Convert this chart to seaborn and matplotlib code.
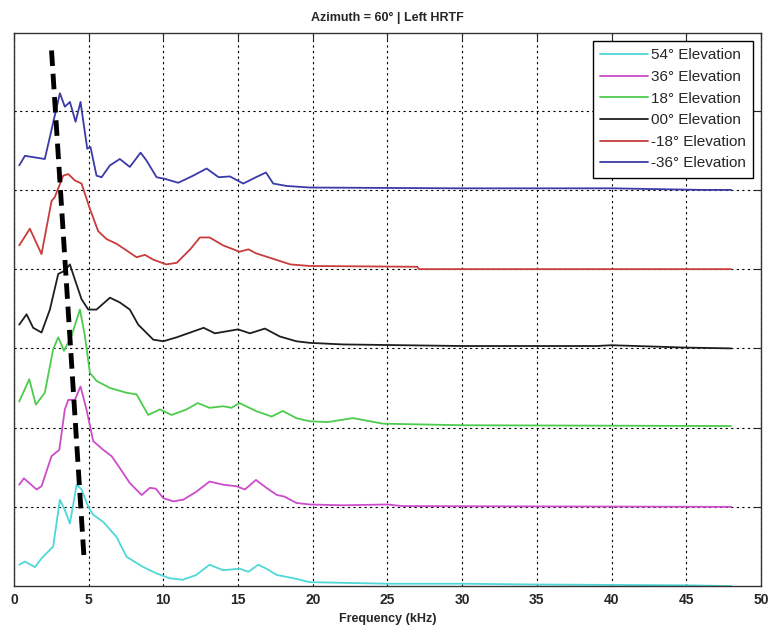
import matplotlib
matplotlib.use("Agg")
import matplotlib.pyplot as plt
import seaborn as sns
import pandas as pd

# Offset HRTF magnitude curves, one per elevation
elevations = ["54° Elevation", "36° Elevation", "18° Elevation",
              "00° Elevation", "-18° Elevation", "-36° Elevation"]
colors = ["#4fd8d8", "#cc4ccc", "#4ccc4c", "#1e1e1e", "#c83c3c", "#3a3aa8"]

freq_54 = [0.36, 0.74, 1.41, 1.85, 2.63, 3.08, 3.41, 3.75, 4.20, 4.53, 4.98, 5.31, 5.98,
           6.87, 7.54, 8.66, 9.55, 10.4, 11.3, 12.2, 13.1, 14.0, 15.1, 15.7, 16.35, 16.9,
           17.6, 18.7, 19.8, 25.0, 30.0, 35.0, 45.0, 48.0]
level_54 = [0.27, 0.31, 0.24, 0.35, 0.50, 1.09, 0.96, 0.79, 1.28, 1.22, 1.00, 0.90, 0.81,
            0.62, 0.37, 0.24, 0.16, 0.10, 0.08, 0.14, 0.27, 0.20, 0.22, 0.18, 0.27, 0.22,
            0.14, 0.10, 0.05, 0.03, 0.03, 0.02, 0.01, 0.0]

freq_36 = [0.36, 0.67, 1.52, 1.85, 2.52, 3.04, 3.41, 3.64, 4.08, 4.46, 4.86, 5.31, 5.98,
           6.54, 7.09, 7.76, 8.55, 9.1, 9.5, 10.0, 10.66, 11.33, 12.2, 13.1, 14.0, 14.9,
           15.46, 16.2, 16.9, 17.6, 18.1, 18.9, 19.8, 22.0, 25.0, 26.0, 48.0]
level_36 = [1.28, 1.36, 1.22, 1.26, 1.64, 1.72, 2.23, 2.35, 2.35, 2.52, 2.23, 1.83, 1.72,
            1.64, 1.49, 1.30, 1.15, 1.24, 1.23, 1.11, 1.07, 1.09, 1.19, 1.32, 1.28, 1.26,
            1.22, 1.34, 1.24, 1.15, 1.13, 1.05, 1.03, 1.02, 1.03, 1.01, 1.0]

freq_18 = [0.36, 1.03, 1.47, 2.07, 2.63, 2.97, 3.35, 3.86, 4.42, 4.75, 5.09, 5.53, 6.43,
           7.54, 8.21, 8.99, 9.77, 10.55, 11.56, 12.3, 13.1, 14.0, 14.57, 15.1, 16.2,
           17.25, 18.0, 18.9, 19.8, 21.0, 22.7, 24.7, 30.0, 48.0]
level_18 = [2.33, 2.61, 2.29, 2.44, 2.99, 3.14, 2.97, 3.16, 3.49, 3.16, 2.69, 2.59, 2.50,
            2.44, 2.42, 2.16, 2.23, 2.16, 2.23, 2.31, 2.25, 2.27, 2.25, 2.31, 2.21,
            2.14, 2.21, 2.12, 2.08, 2.07, 2.12, 2.05, 2.03, 2.02]

freq_00 = [0.36, 0.85, 1.29, 1.85, 2.41, 2.97, 3.41, 3.75, 4.08, 4.53, 4.98, 5.53, 6.43,
           7.09, 7.76, 8.32, 9.33, 10.0, 10.9, 11.8, 12.7, 13.45, 15.0, 15.8, 16.8, 17.8,
           18.9, 19.8, 22.0, 30.0, 39.0, 40.0, 45.0, 48.0]
level_00 = [3.30, 3.43, 3.26, 3.20, 3.49, 3.94, 3.98, 4.06, 3.87, 3.62, 3.49, 3.49, 3.64,
            3.58, 3.49, 3.30, 3.11, 3.09, 3.14, 3.20, 3.26, 3.19, 3.24, 3.19, 3.25, 3.15,
            3.09, 3.07, 3.05, 3.03, 3.03, 3.04, 3.01, 3.0]

freq_m18 = [0.36, 1.07, 1.85, 2.52, 2.74, 3.30, 3.64, 4.08, 4.53, 5.09, 5.64, 6.20, 6.87,
            7.43, 8.21, 8.77, 9.33, 10.2, 10.9, 11.8, 12.45, 13.1, 14.0, 15.1, 15.7, 16.2,
            17.36, 18.5, 19.8, 27.0, 27.1, 48.0]
level_m18 = [4.30, 4.51, 4.19, 4.86, 4.91, 5.18, 5.20, 5.12, 5.08, 4.76, 4.48, 4.38, 4.32,
             4.25, 4.15, 4.18, 4.12, 4.06, 4.08, 4.25, 4.40, 4.40, 4.30, 4.22, 4.25, 4.20,
             4.13, 4.06, 4.04, 4.03, 4.0, 4.0]

freq_m36 = [0.36, 0.74, 2.07, 2.85, 3.08, 3.41, 3.75, 4.13, 4.46, 4.91, 5.13, 5.53, 5.87,
            6.43, 7.09, 7.76, 8.48, 8.88, 9.55, 10.1, 11.0, 12.0, 12.9, 13.7, 14.46, 15.35,
            16.2, 16.87, 17.36, 18.25, 19.8, 30.0, 40.0, 46.0, 48.0]
level_m36 = [5.31, 5.43, 5.39, 6.03, 6.22, 6.05, 6.11, 5.86, 6.11, 5.52, 5.54, 5.18, 5.16,
             5.31, 5.39, 5.29, 5.47, 5.37, 5.16, 5.14, 5.09, 5.18, 5.27, 5.16, 5.17, 5.08,
             5.16, 5.22, 5.08, 5.05, 5.03, 5.02, 5.02, 5.0, 5.0]

# peak trend line (dashed)
trend_freq = [2.52, 4.69]
trend_level = [6.76, 0.37]

series = [(freq_54, level_54), (freq_36, level_36), (freq_18, level_18),
          (freq_00, level_00), (freq_m18, level_m18), (freq_m36, level_m36)]
frames = []
for name, (f, l) in zip(elevations, series):
    frames.append(pd.DataFrame({"freq": f, "level": l, "elevation": name}))
df = pd.concat(frames, ignore_index=True)

sns.set_style("white")
plt.rcParams["font.family"] = ["Liberation Sans", "DejaVu Sans"]

fig = plt.figure(figsize=(7.71, 6.35), dpi=100)
ax = fig.add_axes([0.018, 0.077, 0.969, 0.871])

sns.lineplot(data=df, x="freq", y="level", hue="elevation", hue_order=elevations,
             palette=dict(zip(elevations, colors)), estimator=None, sort=False,
             linewidth=1.3, ax=ax)
sns.lineplot(x=trend_freq, y=trend_level, color="black", linewidth=3.5,
             linestyle=(0, (3.2, 1.6)), ax=ax, legend=False)

ax.set_xlim(0, 50)
ax.set_ylim(0, 6.98)
ax.set_xticks(range(0, 51, 5))
ax.set_yticks([1, 2, 3, 4, 5, 6])
ax.set_yticklabels([])
ax.tick_params(direction="in", top=True, right=True, length=5, width=0.8,
               labelsize=10, pad=5)
for lbl in ax.get_xticklabels():
    lbl.set_fontweight("bold")
ax.grid(True, color="black", linestyle=(0, (2, 3)), linewidth=0.8)
for sp in ax.spines.values():
    sp.set_color("#333333")
    sp.set_linewidth(1.0)

ax.set_xlabel("Frequency (kHz)", fontsize=9, fontweight="bold", labelpad=4)
ax.set_ylabel("")
ax.set_title("Azimuth = 60° | Left HRTF", fontsize=9, fontweight="bold", pad=9)

handles, labels = ax.get_legend_handles_labels()
leg = ax.legend(handles[:6], labels[:6], loc="upper right", fontsize=11,
                handlelength=3.1, labelspacing=0.5, borderaxespad=0.5,
                borderpad=0.5, fancybox=False, framealpha=1, edgecolor="black",
                handletextpad=0.2)
leg.get_frame().set_linewidth(1.0)

fig.savefig("out.png", dpi=100)
